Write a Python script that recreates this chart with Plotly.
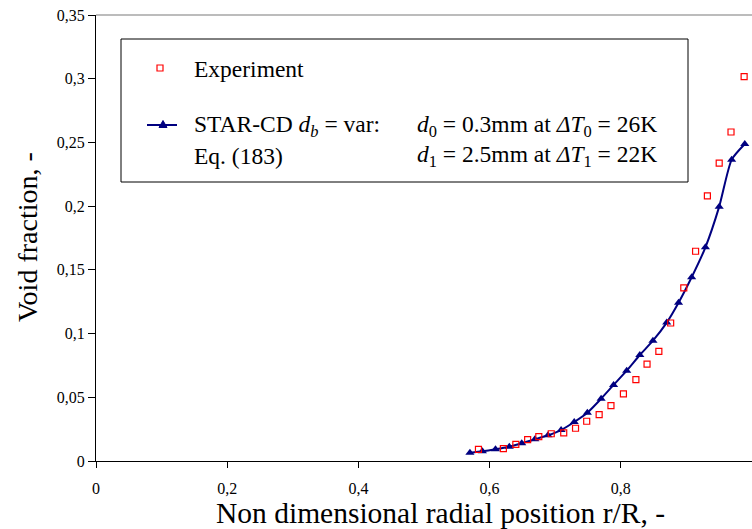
import plotly.graph_objects as go

# ---- data ----
exp_x = [0.583, 0.621, 0.640, 0.658, 0.675, 0.694, 0.713, 0.731, 0.748, 0.767, 0.785,
         0.804, 0.823, 0.840, 0.858, 0.876, 0.896, 0.914, 0.932, 0.950, 0.968, 0.988]
exp_y = [0.0092, 0.0097, 0.0131, 0.0167, 0.0191, 0.0214, 0.0220, 0.0257, 0.0312, 0.0364, 0.0434,
         0.0526, 0.0638, 0.0761, 0.0861, 0.1083, 0.1358, 0.1646, 0.2080, 0.2337, 0.2582, 0.3016]

sim_x = [0.570, 0.589, 0.609, 0.630, 0.649, 0.669, 0.689, 0.709, 0.729, 0.749, 0.770,
         0.789, 0.809, 0.829, 0.849, 0.870, 0.888, 0.908, 0.929, 0.950, 0.969, 0.989]
sim_y = [0.0065, 0.0076, 0.0092, 0.0112, 0.0139, 0.0170, 0.0202, 0.0243, 0.0306, 0.0379, 0.0489,
         0.0597, 0.0709, 0.0832, 0.0944, 0.1086, 0.1242, 0.1442, 0.1677, 0.1996, 0.2365, 0.2488]

x_tickvals = [0, 0.2, 0.4, 0.6, 0.8]
x_ticktext = ["0", "0,2", "0,4", "0,6", "0,8"]
y_tickvals = [0, 0.05, 0.1, 0.15, 0.2, 0.25, 0.3, 0.35]
y_ticktext = ["0", "0,05", "0,1", "0,15", "0,2", "0,25", "0,3", "0,35"]

FONT = "Liberation Serif"
NAVY = "#000080"
RED = "#ff0000"

W, H = 752, 529
L, R, T, B = 96, 0, 15, 68
PW, PH = W - L - R, H - T - B


def px(xp):
    return (xp - L) / PW


def py(yp):
    return (H - B - yp) / PH


fig = go.Figure()
fig.add_trace(go.Scatter(
    x=sim_x, y=sim_y, mode="lines+markers", name="STAR-CD",
    line=dict(color=NAVY, width=2, shape="spline", smoothing=0.6),
    marker=dict(symbol="triangle-up", size=8, color=NAVY),
    cliponaxis=False,
))
fig.add_trace(go.Scatter(
    x=exp_x, y=exp_y, mode="markers", name="Experiment",
    marker=dict(symbol="square-open", size=6, color=RED, line=dict(width=1.2, color=RED)),
    cliponaxis=False,
))

shapes = [
    # top plot-area border (gray)
    dict(type="line", xref="paper", yref="paper", x0=0, x1=1, y0=1, y1=1,
         line=dict(color="#a6a6a6", width=1.5)),
    # legend box
    dict(type="rect", xref="paper", yref="paper", x0=px(121), x1=px(688), y0=py(182), y1=py(39),
         line=dict(color="black", width=1), fillcolor="white", layer="below"),
    # legend: experiment marker
    dict(type="rect", xref="paper", yref="paper", x0=px(157), x1=px(163), y0=py(71), y1=py(65),
         line=dict(color=RED, width=1.2)),
    # legend: simulation line
    dict(type="line", xref="paper", yref="paper", x0=px(147), x1=px(177), y0=py(125), y1=py(125),
         line=dict(color=NAVY, width=2)),
    dict(type="path", xref="paper", yref="paper",
         path=f"M {px(159)},{py(127.5)} L {px(167)},{py(127.5)} L {px(163)},{py(120.5)} Z",
         fillcolor=NAVY, line=dict(color=NAVY, width=1)),
]

LF = 23.5
ann = [
    dict(text="Experiment", x=px(192), y=py(69)),
    dict(text="STAR-CD <i>d</i><sub><i>b</i></sub> = var:", x=px(192), y=py(126)),
    dict(text="Eq. (183)", x=px(192), y=py(156)),
    dict(text="<i>d</i><sub>0</sub> = 0.3mm at <i>ΔT</i><sub>0</sub> = 26K", x=px(415), y=py(126)),
    dict(text="<i>d</i><sub>1</sub> = 2.5mm at <i>ΔT</i><sub>1</sub> = 22K", x=px(415), y=py(156)),
]
annotations = []
for a in ann:
    a.update(xref="paper", yref="paper", xanchor="left", yanchor="middle", showarrow=False,
             font=dict(family=FONT, size=LF, color="black"))
    annotations.append(a)

annotations.append(dict(text="Void fraction, -", xref="paper", yref="paper", x=px(27), y=py(237),
                        textangle=-90, showarrow=False, xanchor="center", yanchor="middle",
                        font=dict(family=FONT, size=28, color="black")))
annotations.append(dict(text="Non dimensional radial position r/R, -", xref="paper", yref="paper",
                        x=px(440), y=py(513), showarrow=False, xanchor="center", yanchor="middle",
                        font=dict(family=FONT, size=29.5, color="black")))

fig.update_layout(
    width=W, height=H,
    margin=dict(l=L, r=R, t=T, b=B),
    paper_bgcolor="white", plot_bgcolor="white",
    showlegend=False,
    font=dict(family=FONT, color="black"),
    shapes=shapes,
    annotations=annotations,
    xaxis=dict(range=[0, 1], tickvals=x_tickvals, ticktext=x_ticktext, showgrid=False, zeroline=False,
               showline=True, linecolor="black", linewidth=1, ticks="outside", ticklen=6,
               tickcolor="black", tickfont=dict(family=FONT, size=16, color="black"),
               ticklabelstandoff=7),
    yaxis=dict(range=[0, 0.35], tickvals=y_tickvals, ticktext=y_ticktext, showgrid=False, zeroline=False,
               showline=True, linecolor="black", linewidth=1, ticks="outside", ticklen=7,
               tickcolor="black", tickfont=dict(family=FONT, size=16, color="black")),
)

fig.write_html("out.html")
